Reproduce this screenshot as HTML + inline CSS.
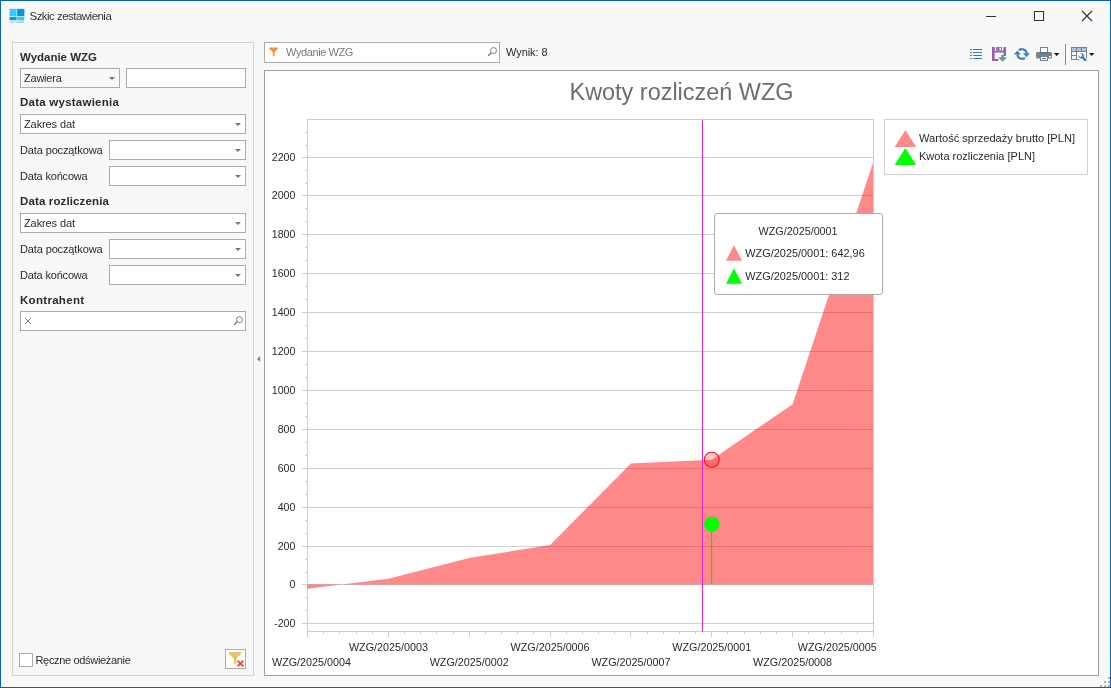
<!DOCTYPE html>
<html lang="pl">
<head>
<meta charset="utf-8">
<title>Szkic zestawienia</title>
<style>
*{box-sizing:border-box;margin:0;padding:0}
html,body{width:1111px;height:688px;overflow:hidden;background:#f8f8f8}
body{font-family:"Liberation Sans",sans-serif;font-size:11px;color:#2a2a2a;position:relative}
.abs{position:absolute}
.t{position:absolute;white-space:pre;line-height:13px;height:13px}
.b{font-weight:bold;font-size:11.5px;color:#2b2b2b}
.win{position:absolute;left:0;top:0;width:1111px;height:688px;border:1px solid #0761bb;pointer-events:none}
.panel{position:absolute;border:1px solid #d2d2d2;background:#f8f8f8}
.inp{position:absolute;height:20px;border:1px solid #ababab;background:#fff}
.arr{position:absolute;width:0;height:0;border-left:3px solid transparent;border-right:3px solid transparent;border-top:3px solid #777}
</style>
</head>
<body>
<!-- title bar -->
<svg class="abs" style="left:8px;top:7px" width="18" height="18" viewBox="8 7 18 18">
  <rect x="9.3" y="8.6" width="15.3" height="11.7" fill="#c9effb"/>
  <rect x="9.6" y="8.9" width="6.9" height="7.2" fill="#33ccff"/>
  <rect x="17.2" y="8.9" width="7.1" height="7.2" fill="#0499cf"/>
  <rect x="9.6" y="16.9" width="6.9" height="3.1" fill="#0a9ddb"/>
  <rect x="17.2" y="16.9" width="7.1" height="3.1" fill="#33ccff"/>
  <text x="9.6" y="23.1" font-family="'Liberation Sans',sans-serif" font-size="3.1" font-weight="bold" fill="#5cc3ea" textLength="14.6" lengthAdjust="spacingAndGlyphs">CUT GLASS</text>
</svg>
<div class="t" id="ttl" style="left:29.5px;top:10px;font-size:11.5px;color:#333;letter-spacing:-0.53px">Szkic zestawienia</div>

<!-- left panel -->
<div class="panel" style="left:12px;top:42px;width:242px;height:634px"></div>
<div class="t b" id="h1" style="left:20px;top:51px;letter-spacing:-0.01px">Wydanie WZG</div>
<div class="inp" style="left:20px;top:68px;width:100px;background:#f8f8f8"></div>
<div class="t" id="zaw" style="left:24px;top:72px;letter-spacing:-0.23px">Zawiera</div>
<div class="arr" style="left:109px;top:77px"></div>
<div class="inp" style="left:126px;top:68px;width:120px"></div>

<div class="t b" id="h2" style="left:20px;top:96px;letter-spacing:0.24px">Data wystawienia</div>
<div class="inp" style="left:20px;top:114px;width:226px"></div>
<div class="t" style="left:24px;top:118px;letter-spacing:-0.10px">Zakres dat</div>
<div class="arr" style="left:235px;top:123px"></div>
<div class="t" style="left:20px;top:144px;letter-spacing:-0.13px">Data początkowa</div>
<div class="inp" style="left:109px;top:140px;width:137px"></div>
<div class="arr" style="left:235px;top:149px"></div>
<div class="t" style="left:20px;top:170px;letter-spacing:-0.18px">Data końcowa</div>
<div class="inp" style="left:109px;top:166px;width:137px"></div>
<div class="arr" style="left:235px;top:175px"></div>

<div class="t b" id="h3" style="left:20px;top:195px;letter-spacing:0.13px">Data rozliczenia</div>
<div class="inp" style="left:20px;top:213px;width:226px"></div>
<div class="t" style="left:24px;top:217px;letter-spacing:-0.10px">Zakres dat</div>
<div class="arr" style="left:235px;top:222px"></div>
<div class="t" style="left:20px;top:243px;letter-spacing:-0.13px">Data początkowa</div>
<div class="inp" style="left:109px;top:239px;width:137px"></div>
<div class="arr" style="left:235px;top:248px"></div>
<div class="t" style="left:20px;top:269px;letter-spacing:-0.18px">Data końcowa</div>
<div class="inp" style="left:109px;top:265px;width:137px"></div>
<div class="arr" style="left:235px;top:274px"></div>

<div class="t b" id="h4" style="left:20px;top:294px;letter-spacing:0.30px">Kontrahent</div>
<div class="inp" style="left:20px;top:311px;width:226px"></div>
<svg class="abs" style="left:233px;top:314px" width="12" height="12" viewBox="0 0 12 12">
  <circle cx="6.5" cy="5.6" r="3.05" fill="none" stroke="#777" stroke-width="0.95"/>
  <path d="M4.4 7.8 L1.1 10.8" stroke="#777" stroke-width="1.35" fill="none"/>
</svg>
<svg class="abs" style="left:24px;top:317px" width="8" height="8" viewBox="0 0 8 8"><path d="M1.2 1.2 L7 7 M7 1.2 L1.2 7" stroke="#777" stroke-width="1" fill="none"/></svg>

<div class="abs" style="left:19px;top:653px;width:14px;height:14px;border:1px solid #ababab;background:#fff"></div>
<div class="t" style="left:35.5px;top:654px;letter-spacing:-0.33px">Ręczne odświeżanie</div>
<div class="inp" style="left:225px;top:649px;width:21px;height:20px"></div>
<svg class="abs" style="left:226px;top:650px" width="19" height="18" viewBox="226 650 19 18">
  <path d="M229 652 H241 V654 L236.4 658.6 V663 L233.9 664.8 V658.6 L229 654 Z" fill="#ecc16c"/>
  <path d="M237.6 660.6 L243.4 666.4 M243.4 660.6 L237.6 666.4" stroke="#d9593a" stroke-width="2" fill="none"/>
</svg>

<!-- search -->
<div class="inp" style="left:264px;top:42px;width:236px;height:21px"></div>
<div class="t" style="left:286px;top:46px;color:#7a7a7a;letter-spacing:-0.40px">Wydanie WZG</div>
<div class="t" style="left:506px;top:46px;letter-spacing:-0.06px">Wynik: 8</div>


<!-- window buttons -->
<svg class="abs" style="left:980px;top:6px" width="120" height="22" viewBox="980 6 120 22" shape-rendering="crispEdges">
  <rect x="986" y="16" width="10" height="1" fill="#333"/>
  <rect x="1034.5" y="11.5" width="9" height="9" fill="none" stroke="#333" stroke-width="1"/>
  <g shape-rendering="auto" stroke="#333" stroke-width="1.1" fill="none"><path d="M1082 11 L1092 21 M1092 11 L1082 21"/></g>
</svg>

<!-- search icons -->
<svg class="abs" style="left:268px;top:46px" width="12" height="12" viewBox="0 0 12 12">
  <path d="M1.1 1.5 H9.9 V2.8 L6.6 5.9 V9.4 L4.8 10.75 V5.9 L1.1 2.8 Z" fill="#f7922d"/>
</svg>
<svg class="abs" style="left:487.4px;top:45px" width="12" height="12" viewBox="0 0 12 12">
  <circle cx="6.5" cy="5.6" r="3.05" fill="none" stroke="#777" stroke-width="0.95"/>
  <path d="M4.4 7.8 L1.1 10.8" stroke="#777" stroke-width="1.35" fill="none"/>
</svg>

<!-- toolbar -->
<svg class="abs" style="left:966px;top:44px" width="132" height="22" viewBox="966 44 132 22">
  <!-- list -->
  <g shape-rendering="crispEdges">
    <rect x="970" y="49" width="2" height="1" fill="#777"/><rect x="973" y="49" width="9" height="1" fill="#3a7abf"/>
    <rect x="970" y="52" width="2" height="1" fill="#777"/><rect x="973" y="52" width="9" height="1" fill="#3a7abf"/>
    <rect x="970" y="55" width="2" height="1" fill="#777"/><rect x="973" y="55" width="9" height="1" fill="#3a7abf"/>
    <rect x="970" y="58" width="2" height="1" fill="#777"/><rect x="973" y="58" width="9" height="1" fill="#3a7abf"/>
  </g>
  <!-- save -->
  <path d="M992 47 H994.8 V50.8 H1003.4 V47 H1006 V56 H1003.5 V52.4 H994.6 V59 H998.5 V61 H992 Z" fill="#9461b4"/>
  <rect x="996" y="47" width="6" height="3.8" fill="#9c70bb"/>
  <rect x="999.6" y="47.8" width="1.4" height="2.3" fill="#fff"/>
  <path d="M1001.2 55 H1004 V57.2 H1007.2 L1002.6 61.8 L998 57.2 H1001.2 Z" fill="#5aa58a"/>
  <!-- refresh -->
  <g fill="none" stroke="#3f7fc0" stroke-width="2.1">
    <path d="M1018.8 50.3 A4.8 4.8 0 0 1 1026.7 53.6"/>
    <path d="M1017.3 54.4 A4.8 4.8 0 0 0 1024.9 57.9"/>
  </g>
  <path d="M1013.9 54.6 L1017.4 50.4 L1020.9 54.6 Z" fill="#3f7fc0"/>
  <path d="M1022.9 53.3 L1030 53.3 L1026.5 57.2 Z" fill="#3f7fc0"/>
  <!-- printer -->
  <rect x="1036" y="52" width="16" height="6.6" rx="1.6" fill="#808080"/>
  <rect x="1040.5" y="47.5" width="7" height="5" fill="#fff" stroke="#808080" stroke-width="1"/>
  <rect x="1040" y="52" width="8" height="1.6" fill="#3a7abf"/>
  <rect x="1040.5" y="56.5" width="7" height="4" fill="#fff" stroke="#808080" stroke-width="1"/>
  <rect x="1042" y="58" width="4" height="1" fill="#3a7abf"/>
  <rect x="1049" y="56" width="2" height="1.2" fill="#fff"/>
  <path d="M1054 53 H1059.4 L1056.7 56 Z" fill="#111"/>
  <!-- sep -->
  <rect x="1065" y="44" width="1" height="21" fill="#8a8a8a" shape-rendering="crispEdges"/>
  <!-- grid -->
  <g shape-rendering="crispEdges">
    <rect x="1071" y="47" width="16" height="13" fill="#808080"/>
    <rect x="1072" y="48" width="4" height="3" fill="#a6c4e8"/><rect x="1077" y="48" width="4" height="3" fill="#a6c4e8"/><rect x="1082" y="48" width="4" height="3" fill="#a6c4e8"/>
    <rect x="1072" y="52" width="4" height="3" fill="#fff"/><rect x="1077" y="52" width="9" height="7" fill="#fff"/>
    <rect x="1072" y="56" width="4" height="3" fill="#fff"/>
    <rect x="1079" y="59" width="8" height="1" fill="#f8f8f8"/>
    <rect x="1086" y="58" width="1" height="2" fill="#f8f8f8"/>
  </g>
  <path d="M1078.1 55 C1078.3 57.6 1080 58.9 1082.1 58.4 L1085.3 61.6 L1087 59.9 L1083.8 56.7 C1084.4 54.8 1082.9 53.1 1080.3 53.1 L1082.1 55 L1081.7 56.5 L1080.1 56.9 Z" fill="#3a7abf"/>
  <path d="M1089 53 H1094.4 L1091.7 56 Z" fill="#111"/>
</svg>

<!-- chart panel -->
<div class="abs" style="left:264px;top:70px;width:835px;height:606px;border:1px solid #a0a0a0;background:#fff"></div>

<!--CHART-->
<svg class="abs" style="left:265px;top:71px" width="833" height="604" viewBox="265 71 833 604" font-family="'Liberation Sans',sans-serif" font-size="11" fill="#2a2a2a">
<text x="681.5" y="99.7" font-size="23.5" fill="#6e6e6e" text-anchor="middle" textLength="224" lengthAdjust="spacingAndGlyphs">Kwoty rozliczeń WZG</text>
<g shape-rendering="crispEdges">
<rect x="307.5" y="119.5" width="566" height="512" fill="#fff" stroke="#cdcdcd" stroke-width="1"/>
<rect x="302" y="623" width="571" height="1" fill="#cfcfcf"/>
<rect x="302" y="584" width="571" height="1" fill="#cfcfcf"/>
<rect x="302" y="546" width="571" height="1" fill="#cfcfcf"/>
<rect x="302" y="507" width="571" height="1" fill="#cfcfcf"/>
<rect x="302" y="468" width="571" height="1" fill="#cfcfcf"/>
<rect x="302" y="429" width="571" height="1" fill="#cfcfcf"/>
<rect x="302" y="390" width="571" height="1" fill="#cfcfcf"/>
<rect x="302" y="351" width="571" height="1" fill="#cfcfcf"/>
<rect x="302" y="312" width="571" height="1" fill="#cfcfcf"/>
<rect x="302" y="273" width="571" height="1" fill="#cfcfcf"/>
<rect x="302" y="234" width="571" height="1" fill="#cfcfcf"/>
<rect x="302" y="195" width="571" height="1" fill="#cfcfcf"/>
<rect x="302" y="157" width="571" height="1" fill="#cfcfcf"/>
<rect x="305" y="597" width="2" height="1" fill="#cfcfcf"/>
<rect x="305" y="610" width="2" height="1" fill="#cfcfcf"/>
<rect x="305" y="559" width="2" height="1" fill="#cfcfcf"/>
<rect x="305" y="572" width="2" height="1" fill="#cfcfcf"/>
<rect x="305" y="520" width="2" height="1" fill="#cfcfcf"/>
<rect x="305" y="533" width="2" height="1" fill="#cfcfcf"/>
<rect x="305" y="481" width="2" height="1" fill="#cfcfcf"/>
<rect x="305" y="494" width="2" height="1" fill="#cfcfcf"/>
<rect x="305" y="442" width="2" height="1" fill="#cfcfcf"/>
<rect x="305" y="455" width="2" height="1" fill="#cfcfcf"/>
<rect x="305" y="403" width="2" height="1" fill="#cfcfcf"/>
<rect x="305" y="416" width="2" height="1" fill="#cfcfcf"/>
<rect x="305" y="364" width="2" height="1" fill="#cfcfcf"/>
<rect x="305" y="377" width="2" height="1" fill="#cfcfcf"/>
<rect x="305" y="325" width="2" height="1" fill="#cfcfcf"/>
<rect x="305" y="338" width="2" height="1" fill="#cfcfcf"/>
<rect x="305" y="286" width="2" height="1" fill="#cfcfcf"/>
<rect x="305" y="299" width="2" height="1" fill="#cfcfcf"/>
<rect x="305" y="247" width="2" height="1" fill="#cfcfcf"/>
<rect x="305" y="260" width="2" height="1" fill="#cfcfcf"/>
<rect x="305" y="208" width="2" height="1" fill="#cfcfcf"/>
<rect x="305" y="221" width="2" height="1" fill="#cfcfcf"/>
<rect x="305" y="170" width="2" height="1" fill="#cfcfcf"/>
<rect x="305" y="183" width="2" height="1" fill="#cfcfcf"/>
<rect x="305" y="132" width="2" height="1" fill="#cfcfcf"/>
<rect x="305" y="145" width="2" height="1" fill="#cfcfcf"/>
<rect x="307" y="631" width="1" height="6" fill="#cfcfcf"/>
<rect x="323" y="631" width="1" height="3" fill="#cfcfcf"/>
<rect x="339" y="631" width="1" height="3" fill="#cfcfcf"/>
<rect x="356" y="631" width="1" height="3" fill="#cfcfcf"/>
<rect x="372" y="631" width="1" height="3" fill="#cfcfcf"/>
<rect x="388" y="631" width="1" height="6" fill="#cfcfcf"/>
<rect x="404" y="631" width="1" height="3" fill="#cfcfcf"/>
<rect x="420" y="631" width="1" height="3" fill="#cfcfcf"/>
<rect x="436" y="631" width="1" height="3" fill="#cfcfcf"/>
<rect x="453" y="631" width="1" height="3" fill="#cfcfcf"/>
<rect x="469" y="631" width="1" height="6" fill="#cfcfcf"/>
<rect x="485" y="631" width="1" height="3" fill="#cfcfcf"/>
<rect x="501" y="631" width="1" height="3" fill="#cfcfcf"/>
<rect x="517" y="631" width="1" height="3" fill="#cfcfcf"/>
<rect x="533" y="631" width="1" height="3" fill="#cfcfcf"/>
<rect x="550" y="631" width="1" height="6" fill="#cfcfcf"/>
<rect x="566" y="631" width="1" height="3" fill="#cfcfcf"/>
<rect x="582" y="631" width="1" height="3" fill="#cfcfcf"/>
<rect x="598" y="631" width="1" height="3" fill="#cfcfcf"/>
<rect x="614" y="631" width="1" height="3" fill="#cfcfcf"/>
<rect x="630" y="631" width="1" height="6" fill="#cfcfcf"/>
<rect x="647" y="631" width="1" height="3" fill="#cfcfcf"/>
<rect x="663" y="631" width="1" height="3" fill="#cfcfcf"/>
<rect x="679" y="631" width="1" height="3" fill="#cfcfcf"/>
<rect x="695" y="631" width="1" height="3" fill="#cfcfcf"/>
<rect x="711" y="631" width="1" height="6" fill="#cfcfcf"/>
<rect x="727" y="631" width="1" height="3" fill="#cfcfcf"/>
<rect x="744" y="631" width="1" height="3" fill="#cfcfcf"/>
<rect x="760" y="631" width="1" height="3" fill="#cfcfcf"/>
<rect x="776" y="631" width="1" height="3" fill="#cfcfcf"/>
<rect x="792" y="631" width="1" height="6" fill="#cfcfcf"/>
<rect x="808" y="631" width="1" height="3" fill="#cfcfcf"/>
<rect x="824" y="631" width="1" height="3" fill="#cfcfcf"/>
<rect x="841" y="631" width="1" height="3" fill="#cfcfcf"/>
<rect x="857" y="631" width="1" height="3" fill="#cfcfcf"/>
<rect x="873" y="631" width="1" height="6" fill="#cfcfcf"/>
</g>
<text x="295.4" y="627.1" text-anchor="end" font-size="10.6">-200</text>
<text x="295.4" y="588.1" text-anchor="end" font-size="10.6">0</text>
<text x="295.4" y="550.1" text-anchor="end" font-size="10.6">200</text>
<text x="295.4" y="511.1" text-anchor="end" font-size="10.6">400</text>
<text x="295.4" y="472.1" text-anchor="end" font-size="10.6">600</text>
<text x="295.4" y="433.1" text-anchor="end" font-size="10.6">800</text>
<text x="295.4" y="394.1" text-anchor="end" font-size="10.6">1000</text>
<text x="295.4" y="355.1" text-anchor="end" font-size="10.6">1200</text>
<text x="295.4" y="316.1" text-anchor="end" font-size="10.6">1400</text>
<text x="295.4" y="277.1" text-anchor="end" font-size="10.6">1600</text>
<text x="295.4" y="238.1" text-anchor="end" font-size="10.6">1800</text>
<text x="295.4" y="199.1" text-anchor="end" font-size="10.6">2000</text>
<text x="295.4" y="161.1" text-anchor="end" font-size="10.6">2200</text>
<path d="M307.5 584.5 L307.5 588.8 L388.4 578.7 L469.2 557.9 L550.1 545.1 L630.9 463.6 L711.8 459.7 L792.6 404.2 L873.0 162.9 L873.0 584.5 Z" fill="#ff1414" fill-opacity="0.5"/>
<rect x="702" y="120" width="1" height="512" fill="#df24cc" shape-rendering="crispEdges"/>
<rect x="711" y="523.9" width="1.2" height="60.6" fill="#2fd400"/>
<circle cx="711.8" cy="459.7" r="7.5" fill="#ff0000" fill-opacity="0.2" stroke="#f21818" stroke-width="1.1"/>
<circle cx="711.8" cy="524.3" r="7.7" fill="#00ff00"/>
<text x="272.0" y="665.8" textLength="79" lengthAdjust="spacingAndGlyphs">WZG/2025/0004</text>
<text x="348.9" y="651" textLength="79" lengthAdjust="spacingAndGlyphs">WZG/2025/0003</text>
<text x="429.7" y="665.8" textLength="79" lengthAdjust="spacingAndGlyphs">WZG/2025/0002</text>
<text x="510.6" y="651" textLength="79" lengthAdjust="spacingAndGlyphs">WZG/2025/0006</text>
<text x="591.4" y="665.8" textLength="79" lengthAdjust="spacingAndGlyphs">WZG/2025/0007</text>
<text x="672.3" y="651" textLength="79" lengthAdjust="spacingAndGlyphs">WZG/2025/0001</text>
<text x="753.1" y="665.8" textLength="79" lengthAdjust="spacingAndGlyphs">WZG/2025/0008</text>
<text x="797.8" y="651" textLength="79" lengthAdjust="spacingAndGlyphs">WZG/2025/0005</text>
<rect x="884.5" y="119.5" width="203" height="55" fill="#fff" stroke="#d0d0d0" shape-rendering="crispEdges"/>
<path d="M894.6 147 L905.4 130 L916.2 147 Z" fill="#ff8a8a"/>
<path d="M894.6 165 L905.4 148 L916.2 165 Z" fill="#00ff00"/>
<text x="919" y="142" textLength="156" lengthAdjust="spacingAndGlyphs">Wartość sprzedaży brutto [PLN]</text>
<text x="919" y="159.7" textLength="116" lengthAdjust="spacingAndGlyphs">Kwota rozliczenia [PLN]</text>
<rect x="714.5" y="213.5" width="168" height="81" rx="2.5" fill="#fff" stroke="#acacac"/>
<text x="758.6" y="235" textLength="79" lengthAdjust="spacingAndGlyphs">WZG/2025/0001</text>
<path d="M726 260.7 L734 245.2 L742 260.7 Z" fill="#ff8a8a"/>
<path d="M726 283.7 L734 268.2 L742 283.7 Z" fill="#00ff00"/>
<text x="745.3" y="257.2" textLength="119.4" lengthAdjust="spacingAndGlyphs">WZG/2025/0001: 642,96</text>
<text x="745.3" y="280.2" textLength="104.2" lengthAdjust="spacingAndGlyphs">WZG/2025/0001: 312</text>
</svg>
<!--/CHART-->
<!-- splitter arrow + size grip -->
<svg class="abs" style="left:256px;top:355px" width="6" height="8" viewBox="256 355 6 8"><path d="M257 359 L260.2 356 V362 Z" fill="#808080"/></svg>
<svg class="abs" style="left:1098px;top:676px" width="12" height="11" viewBox="1098 676 12 11" shape-rendering="crispEdges">
  <g fill="#b4b0ac"><rect x="1100" y="685" width="2" height="2"/><rect x="1104" y="685" width="2" height="2"/><rect x="1108" y="685" width="2" height="2"/>
  <rect x="1104" y="681" width="2" height="2"/><rect x="1108" y="681" width="2" height="2"/><rect x="1108" y="677" width="2" height="2"/></g>
</svg>
<div class="win"></div>
</body>
</html>
